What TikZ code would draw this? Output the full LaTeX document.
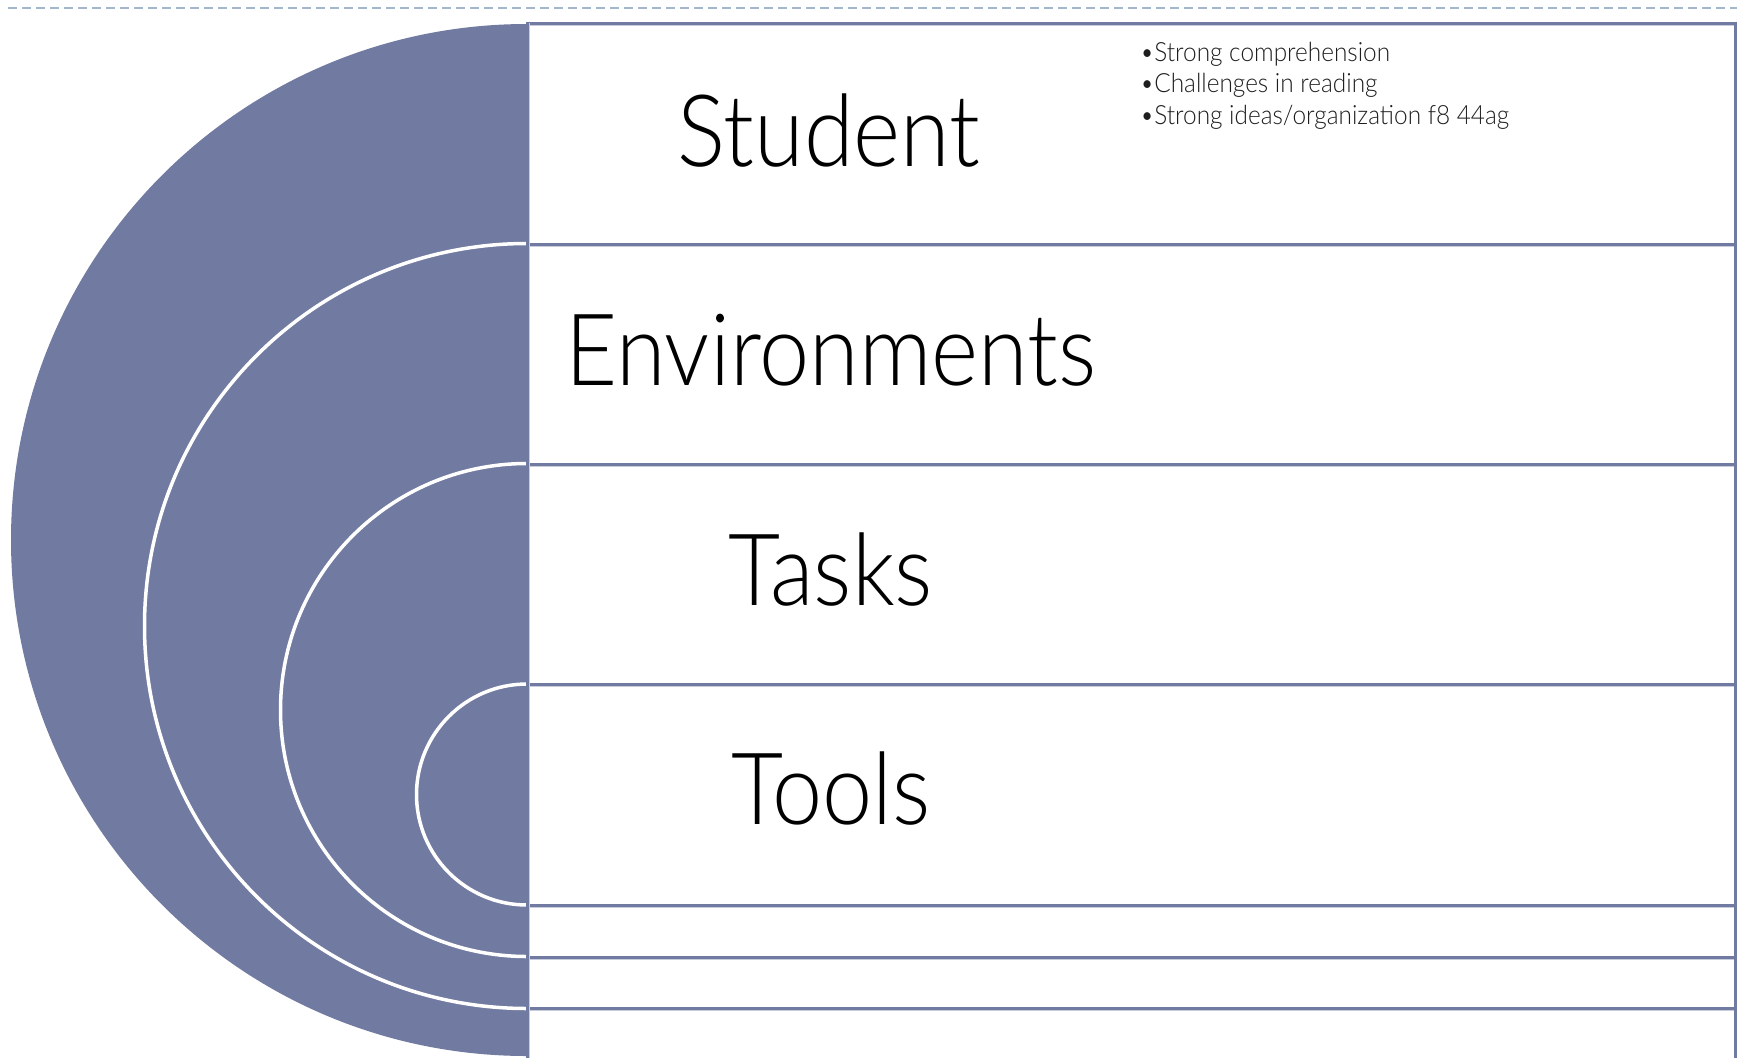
\documentclass[tikz,border=0pt]{standalone}
\usepackage{fontspec}
\setmainfont{Lato}[UprightFont=* Light]
\newfontfamily\titlefont{Lato}[UprightFont=* Light,FakeStretch=0.9]
\newfontfamily\notefont{Lato}[UprightFont=* Light,FakeStretch=0.92]
\definecolor{ringblue}{RGB}{113,122,160}
\definecolor{ringshade}{RGB}{200,204,221}
\definecolor{dashblue}{RGB}{163,183,204}
\definecolor{notegray}{RGB}{30,30,30}

\begin{document}
\begin{tikzpicture}[x=1pt,y=-1pt,
    band/.style={line width=3pt,draw=ringblue},
    bandshade/.style={line width=1pt,draw=ringshade},
    ring/.style={fill=ringblue,draw=white,line width=3.5pt},
    title/.style={font=\titlefont\fontsize{100}{110}\selectfont,text=black,inner sep=0pt,anchor=base},
    note/.style={font=\notefont\fontsize{26.5}{31}\selectfont,text=notegray,inner sep=0pt,anchor=base west}]
  \useasboundingbox (0,0) rectangle (1737,1058);

  % dashed rule along the top
  \draw[dashblue,line width=2pt,dash pattern=on 9pt off 5pt] (8,7.5) -- (1737,7.5);

  % nested half circles
  \begin{scope}
    \clip (0,0) rectangle (527,1058);
    \fill[ringblue] (527,540) circle (516);
    \foreach \cy/\r in {626/382.5, 710/246.5, 794.5/110.5}
      \draw[ring] (527,\cy) circle (\r);
  \end{scope}

  % rows on the right
  \foreach \y in {23,244,464,684,905,957,1008} {
    \draw[bandshade] (529,\y+2.5) -- (1734,\y+2.5);
    \draw[band] (527,\y) -- (1736,\y);
  }
  \draw[bandshade] (529.5,23) -- (529.5,1058);
  \draw[band] (527,21.5) -- (527,1058);
  \draw[band] (1735,21.5) -- (1735,1058);

  % labels
  \node[title] (student) at (829,166) {Student};
  \node[title] (environments) at (831,385.5) {Environments};
  \node[title] (tasks) at (831,605) {Tasks};
  \node[title] (tools) at (831,824) {Tools};

  \foreach \t [count=\i] in {Strong comprehension,Challenges in reading,Strong ideas/organization f8 44ag}
    \node[note] (note\i) at (1140,61.5+31.3*\i-31.3) {•\t};
\end{tikzpicture}
\end{document}
